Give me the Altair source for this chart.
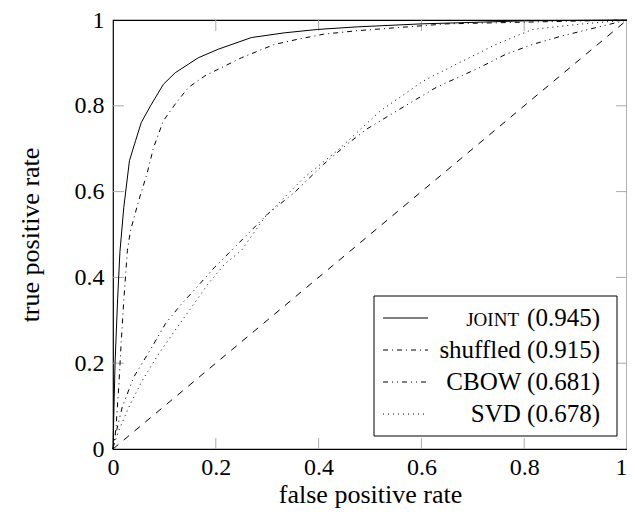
import altair as alt
import pandas as pd

# ---- data ----
joint_fpr = [0, 0.001, 0.004, 0.009, 0.0135, 0.021, 0.032, 0.044, 0.055, 0.073, 0.098, 0.121, 0.166, 0.205, 0.269, 0.333, 0.398, 0.475, 0.6, 0.8, 1.0]
joint_tpr = [0, 0.05, 0.2, 0.35, 0.46, 0.563, 0.672, 0.719, 0.761, 0.80, 0.85, 0.877, 0.912, 0.932, 0.959, 0.97, 0.978, 0.984, 0.991, 0.998, 1.0]

shuffled_fpr = [0, 0.003, 0.006, 0.0116, 0.016, 0.021, 0.028, 0.034, 0.05, 0.066, 0.079, 0.098, 0.121, 0.147, 0.179, 0.25, 0.314, 0.359, 0.41, 0.475, 0.649, 0.803, 1.0]
shuffled_tpr = [0, 0.02, 0.052, 0.153, 0.25, 0.347, 0.463, 0.509, 0.579, 0.641, 0.703, 0.765, 0.804, 0.843, 0.870, 0.912, 0.943, 0.955, 0.967, 0.975, 0.991, 0.995, 1.0]

cbow_fpr = [0, 0.005, 0.018, 0.0405, 0.076, 0.102, 0.131, 0.163, 0.198, 0.224, 0.301, 0.353, 0.41, 0.456, 0.494, 0.552, 0.629, 0.713, 0.764, 0.816, 0.874, 0.932, 0.99, 1.0]
cbow_tpr = [0, 0.033, 0.098, 0.168, 0.238, 0.292, 0.335, 0.377, 0.424, 0.455, 0.548, 0.598, 0.664, 0.711, 0.746, 0.788, 0.843, 0.889, 0.92, 0.943, 0.963, 0.98, 0.997, 1.0]

svd_fpr = [0, 0.005, 0.0116, 0.031, 0.057, 0.089, 0.121, 0.153, 0.185, 0.218, 0.25, 0.295, 0.372, 0.436, 0.475, 0.52, 0.604, 0.668, 0.745, 0.816, 0.906, 1.0]
svd_tpr = [0, 0.021, 0.044, 0.098, 0.16, 0.222, 0.277, 0.331, 0.385, 0.432, 0.463, 0.54, 0.633, 0.695, 0.738, 0.788, 0.858, 0.897, 0.943, 0.978, 0.99, 1.0]

diag_fpr = [0, 1]
diag_tpr = [0, 1]

legend_names = ["JOINT", "shuffled", "CBOW", "SVD"]
legend_auc = ["(0.945)", "(0.915)", "(0.681)", "(0.678)"]
tick_values = [0.2, 0.4, 0.6, 0.8]
axis_values = [0, 0.2, 0.4, 0.6, 0.8, 1]

# ---- styling / layout ----
W, H = 514, 429
FONT = "'Liberation Serif', 'DejaVu Serif', serif"
FS = 24
LFS = 25
TFS = 26
dashes = {
    "JOINT": None,
    "shuffled": [5, 4, 1, 4],
    "CBOW": [5, 4, 1, 4, 1, 4],
    "SVD": [1, 4],
}

xs = alt.Scale(domain=[0, 1], nice=False, zero=False)
ys = alt.Scale(domain=[0, 1], nice=False, zero=False)
xaxis = alt.Axis(values=axis_values, format="~g", title="false positive rate",
                 domain=False, ticks=False, tickSize=0, grid=False, labelPadding=6,
                 labelFlush=False, labelOverlap=False, titleY=53,
                 labelAlign={"condition": {"test": "datum.value == 1", "value": "right"}, "value": "center"},
                 titleBaseline="alphabetic")
yaxis = alt.Axis(values=axis_values, format="~g", title="true positive rate",
                 domain=False, ticks=False, tickSize=0, grid=False, labelPadding=9,
                 labelFlush=False, labelOverlap=False, titleX=-75,
                 titleBaseline="alphabetic", titleAngle=270)

X = alt.X("fpr:Q", scale=xs, axis=xaxis)
Y = alt.Y("tpr:Q", scale=ys, axis=yaxis)


def curve(fpr, tpr, dash):
    df = pd.DataFrame({"fpr": fpr, "tpr": tpr})
    kw = dict(color="black", strokeWidth=1)
    if dash:
        kw["strokeDash"] = dash
    return alt.Chart(df).mark_line(**kw).encode(x=X, y=Y)


tick_df = pd.DataFrame({"fpr": tick_values, "tpr": tick_values})
TL = 11
TC = "#aaaaaa"
ticks = [
    alt.Chart(tick_df).mark_rule(color=TC, strokeWidth=1).encode(x=X, y=alt.value(H), y2=alt.value(H - TL)),
    alt.Chart(tick_df).mark_rule(color=TC, strokeWidth=1).encode(x=X, y=alt.value(0), y2=alt.value(TL)),
    alt.Chart(tick_df).mark_rule(color=TC, strokeWidth=1).encode(y=Y, x=alt.value(0), x2=alt.value(TL)),
    alt.Chart(tick_df).mark_rule(color=TC, strokeWidth=1).encode(y=Y, x=alt.value(W), x2=alt.value(W - TL)),
]

layers = ticks + [
    curve(diag_fpr, diag_tpr, [7, 7]),
    curve(svd_fpr, svd_tpr, dashes["SVD"]),
    curve(cbow_fpr, cbow_tpr, dashes["CBOW"]),
    curve(shuffled_fpr, shuffled_tpr, dashes["shuffled"]),
    curve(joint_fpr, joint_tpr, dashes["JOINT"]),
]

# ---- legend (drawn manually, inside lower right) ----
one = alt.Data(values=[{"k": 1}])
BX0, BX1, BY0, BY1 = 261, 504, 276, 416
layers.append(
    alt.Chart(one).mark_rect(fill="white", stroke="black", strokeWidth=1).encode(
        x=alt.value(BX0), x2=alt.value(BX1), y=alt.value(BY0), y2=alt.value(BY1)
    )
)
ROW0, ROWSTEP = 298, 32
SX0, SX1 = 270, 315
TX = 487
for i, (name, auc) in enumerate(zip(legend_names, legend_auc)):
    ry = ROW0 + i * ROWSTEP
    kw = dict(color="black", strokeWidth=1)
    if dashes[name]:
        kw["strokeDash"] = dashes[name]
    layers.append(
        alt.Chart(one).mark_rule(**kw).encode(x=alt.value(SX0), x2=alt.value(SX1), y=alt.value(ry))
    )
    if name == "JOINT":
        layers.append(
            alt.Chart(one).mark_text(align="right", baseline="middle", font=FONT, fontSize=LFS, color="black").encode(
                x=alt.value(TX), y=alt.value(ry), text=alt.value(auc))
        )
        layers.append(
            alt.Chart(one).mark_text(align="right", baseline="middle", font=FONT, fontSize=19, color="black", dy=2).encode(
                x=alt.value(406), y=alt.value(ry), text=alt.value(name))
        )
    else:
        layers.append(
            alt.Chart(one).mark_text(align="right", baseline="middle", font=FONT, fontSize=LFS, color="black").encode(
                x=alt.value(TX), y=alt.value(ry), text=alt.value(f"{name} {auc}"))
        )

chart = alt.layer(*layers).properties(
    width=W,
    height=H,
    padding={"left": 105, "top": 12, "right": 0, "bottom": 61},
    autosize=alt.AutoSizeParams(type="none"),
).configure_view(
    stroke="black", strokeWidth=1.2
).configure_axis(
    labelFont=FONT, labelFontSize=FS, labelColor="black",
    titleFont=FONT, titleFontSize=TFS, titleColor="black", titleFontWeight="normal",
)

chart.save("out.html", embed_options={"renderer": "svg", "actions": False})
